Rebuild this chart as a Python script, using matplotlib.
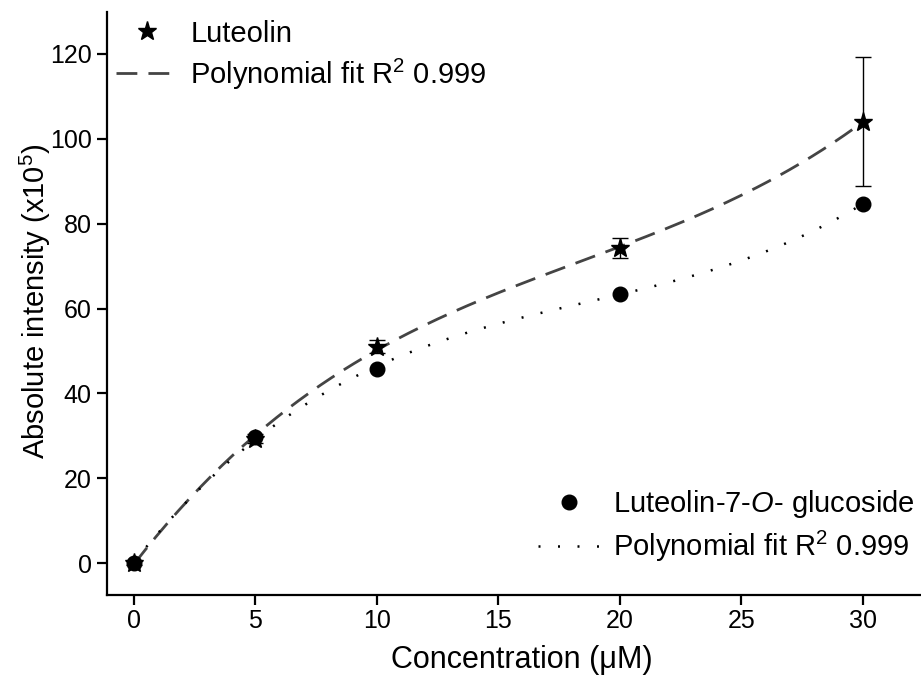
import numpy as np
import matplotlib
matplotlib.use("Agg")
import matplotlib.pyplot as plt

plt.rcParams['font.family'] = ['Liberation Sans', 'DejaVu Sans']
plt.rcParams['mathtext.fontset'] = 'custom'
plt.rcParams['mathtext.rm'] = 'Liberation Sans'
plt.rcParams['mathtext.it'] = 'Liberation Sans:italic'

conc = [0, 5, 10, 20, 30]
luteolin = [0, 29.3, 51.0, 74.3, 104.0]
luteolin_err = [0.5, 1.0, 1.5, 2.3, 15.2]
glucoside = [0, 29.7, 45.8, 63.5, 84.6]
x_ticks = [0, 5, 10, 15, 20, 25, 30]
y_ticks = [0, 20, 40, 60, 80, 100, 120]

fig = plt.figure(figsize=(9.21, 6.77), dpi=100)
ax = fig.add_axes([107/921, 82/677, 1 - 107/921, (595-12)/677])

xs = np.linspace(0, 30, 200)
p_lut = np.polyfit(conc, luteolin, 3)
p_glu = np.polyfit(conc, glucoside, 3)

l_fit, = ax.plot(xs, np.polyval(p_lut, xs), color='#444444', lw=2.0,
                 dashes=(7.5, 4), zorder=2)
g_fit, = ax.plot(xs, np.polyval(p_glu, xs), color='black', lw=1.8,
                 dashes=(0.8, 7), zorder=2)

ax.errorbar(conc, luteolin, yerr=luteolin_err, fmt='none', ecolor='black',
            elinewidth=1.0, capsize=5.5, capthick=1.0, zorder=3)
l_pts, = ax.plot(conc, luteolin, linestyle='none', marker='*', color='black',
                 markersize=14, zorder=4)
g_pts, = ax.plot(conc, glucoside, linestyle='none', marker='o', color='black',
                 markersize=10.5, zorder=4)

ax.set_xlim(-1.11, 32.4)
ax.set_ylim(-7.54, 129.9)
ax.set_xticks(x_ticks)
ax.set_yticks(y_ticks)
ax.spines['top'].set_visible(False)
ax.spines['right'].set_visible(False)
for s in ('left', 'bottom'):
    ax.spines[s].set_linewidth(1.6)
ax.tick_params(direction='out', length=7, width=1.6, labelsize=18)
ax.tick_params(axis='x', pad=3)
ax.tick_params(axis='y', pad=4)

ax.set_xlabel('Concentration (\u03bcM)', fontsize=22, va='center')
ax.xaxis.set_label_coords(0.51, -0.1115)
ax.set_ylabel('Absolute intensity (x10$^5$)', fontsize=21, va='center')
ax.yaxis.set_label_coords(-0.0885, 0.503)

leg1 = ax.legend([l_pts, l_fit], ['Luteolin', 'Polynomial fit R$^2$ 0.999'],
                 loc='upper left', bbox_to_anchor=(-0.014, 1.022), frameon=False,
                 fontsize=21, handlelength=2.1, handletextpad=0.45,
                 labelspacing=0.3, borderaxespad=0.3)
ax.add_artist(leg1)
leg2 = ax.legend([g_pts, g_fit], ['Luteolin-7-$O$- glucoside', 'Polynomial fit R$^2$ 0.999'],
                 loc='lower right', bbox_to_anchor=(1.017, 0.018), frameon=False,
                 fontsize=21, handlelength=2.1, handletextpad=0.45,
                 labelspacing=0.3, borderaxespad=0.3)

fig.savefig('out.png', dpi=100)
